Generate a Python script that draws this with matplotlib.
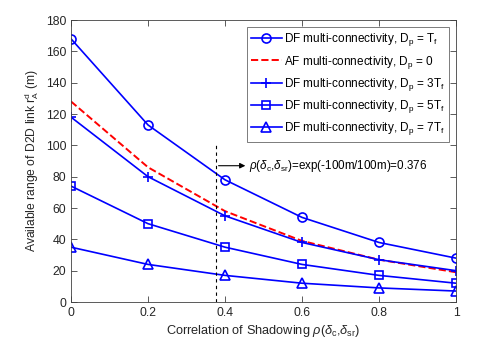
import numpy as np
import matplotlib.pyplot as plt

# correlation values on x axis
rho = [0, 0.2, 0.4, 0.6, 0.8, 1.0]

# available range of D2D link (m)
df_t1 = [168, 113, 78, 54, 38, 28]
af_0 = [128, 86, 58, 39, 27, 19]
df_t3 = [118, 80, 55, 38, 27, 20]
df_t5 = [74, 50, 35, 24, 17, 12]
df_t7 = [35, 24, 17, 12, 9, 7]

labels = [r'DF multi-connectivity, D$_\mathrm{p}$ = T$_\mathrm{f}$',
          r'AF multi-connectivity, D$_\mathrm{p}$ = 0',
          r'DF multi-connectivity, D$_\mathrm{p}$ = 3T$_\mathrm{f}$',
          r'DF multi-connectivity, D$_\mathrm{p}$ = 5T$_\mathrm{f}$',
          r'DF multi-connectivity, D$_\mathrm{p}$ = 7T$_\mathrm{f}$']

rho_mark = 0.376

plt.rcParams['font.family'] = ['Liberation Sans', 'DejaVu Sans']
plt.rcParams['mathtext.fontset'] = 'custom'
plt.rcParams['mathtext.rm'] = 'Liberation Sans'
plt.rcParams['mathtext.it'] = 'Liberation Sans:italic'
plt.rcParams['mathtext.bf'] = 'Liberation Sans:bold'

fig = plt.figure(figsize=(4.98, 3.45), dpi=100)
ax = fig.add_axes([0.1426, 0.1246, 0.7731, 0.8174])

blue = '#0000ff'
ax.plot(rho, df_t1, '-o', color=blue, lw=1.2, ms=6.5, mfc='none', mew=1.2, label=labels[0])
ax.plot(rho, af_0, '--', color='#ff0000', lw=1.4, label=labels[1])
ax.plot(rho, df_t3, '-+', color=blue, lw=1.2, ms=7, mew=1.2, label=labels[2])
ax.plot(rho, df_t5, '-s', color=blue, lw=1.2, ms=5.5, mfc='none', mew=1.2, label=labels[3])
ax.plot(rho, df_t7, '-^', color=blue, lw=1.2, ms=6.5, mfc='none', mew=1.2, label=labels[4])

# vertical marker at rho = 0.376
ax.plot([rho_mark, rho_mark], [0, 102], 'k--', lw=0.8, dashes=(3, 3))
ax.annotate('', xy=(0.46, 87), xytext=(rho_mark, 87),
            arrowprops=dict(arrowstyle='-|>', color='k', lw=0.8, mutation_scale=8))
ax.text(0.462, 87, r'$\rho$($\delta_\mathrm{c}$,$\delta_\mathrm{sr}$)=exp(-100m/100m)=0.376',
        fontsize=8.4, va='center', ha='left')

ax.set_xlim(0, 1)
ax.set_ylim(0, 180)
ax.set_xticks([0, 0.2, 0.4, 0.6, 0.8, 1])
ax.set_xticklabels(['0', '0.2', '0.4', '0.6', '0.8', '1'])
ax.set_yticks(range(0, 181, 20))
ax.tick_params(direction='in', top=True, right=True, labelsize=8.8, length=4,
               color='#404040', labelcolor='#262626', width=0.6)
for s in ax.spines.values():
    s.set_linewidth(0.6)
    s.set_color('#404040')

ax.set_xlabel(r'Correlation of Shadowing $\rho$($\delta_\mathrm{c}$,$\delta_\mathrm{sr}$)',
              fontsize=9.2, color='#262626', labelpad=3)
ax.set_ylabel(r'Available range of D2D link r$_\mathrm{A}^\mathrm{d}$ (m)',
              fontsize=8.7, color='#262626', labelpad=3)

leg = ax.legend(loc='upper right', fontsize=8.5, frameon=True, fancybox=False,
                edgecolor='#404040', borderpad=0.35, labelspacing=0.45,
                handlelength=2.6, handletextpad=0.2, borderaxespad=0.6)
leg.get_frame().set_linewidth(0.6)

fig.savefig('out.png', dpi=100)
